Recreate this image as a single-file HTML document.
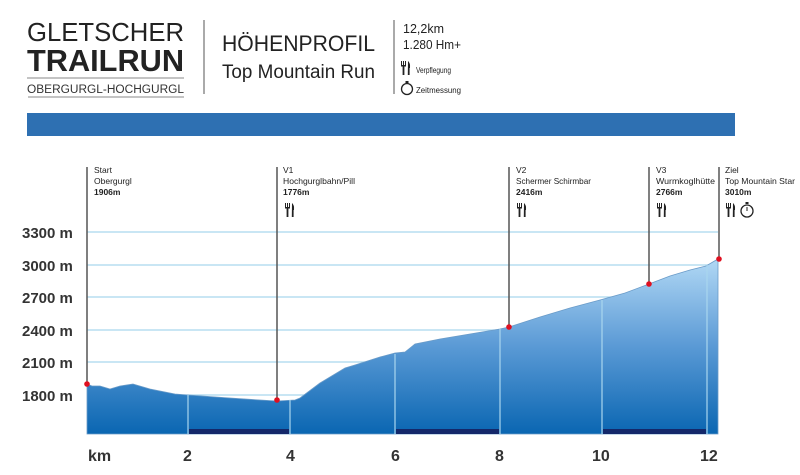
<!DOCTYPE html>
<html><head><meta charset="utf-8"><style>
body{margin:0;width:800px;height:470px;background:#fff;overflow:hidden;font-family:"Liberation Sans",sans-serif}
</style></head><body>
<svg width="800" height="470" xmlns="http://www.w3.org/2000/svg" font-family="Liberation Sans, sans-serif">
<defs>
<linearGradient id="g" gradientUnits="userSpaceOnUse" x1="0" y1="255" x2="0" y2="434">
<stop offset="0" stop-color="#b5dbf6"/><stop offset="0.5" stop-color="#5c9bd6"/><stop offset="1" stop-color="#0a66b2"/>
</linearGradient>
<g id="fk" fill="#222">
<rect x="0" y="0" width="1" height="5"/><rect x="2" y="0" width="1" height="5"/><rect x="4" y="0" width="1" height="5"/>
<rect x="0" y="4" width="5" height="1.5"/><rect x="1.6" y="5" width="1.8" height="9"/>
<path d="M7,0 Q9.5,2 9,7 L8.6,7 L8.6,14 L6.8,14 Z"/>
</g>
</defs>
<text x="27" y="41" font-size="26" fill="#222" textLength="157" lengthAdjust="spacingAndGlyphs">GLETSCHER</text>
<text x="27" y="71" font-size="31" font-weight="bold" fill="#222" textLength="157" lengthAdjust="spacingAndGlyphs">TRAILRUN</text>
<line x1="27" y1="78" x2="184" y2="78" stroke="#888" stroke-width="1"/>
<text x="27" y="93" font-size="11.5" fill="#333" textLength="157" lengthAdjust="spacingAndGlyphs">OBERGURGL-HOCHGURGL</text>
<line x1="28" y1="97" x2="184" y2="97" stroke="#888" stroke-width="1"/>
<line x1="204" y1="20" x2="204" y2="94" stroke="#555" stroke-width="1"/>
<text x="222" y="51" font-size="22" fill="#222" textLength="153" lengthAdjust="spacingAndGlyphs">HÖHENPROFIL</text>
<text x="222" y="78" font-size="19" fill="#222" textLength="153" lengthAdjust="spacingAndGlyphs">Top Mountain Run</text>
<line x1="394" y1="20" x2="394" y2="94" stroke="#555" stroke-width="1"/>
<text x="403" y="33" font-size="13" fill="#222" textLength="41" lengthAdjust="spacingAndGlyphs">12,2km</text>
<text x="403" y="49" font-size="13" fill="#222" textLength="58" lengthAdjust="spacingAndGlyphs">1.280 Hm+</text>
<use href="#fk" x="401" y="61"/>
<text x="416" y="73" font-size="8" fill="#222" textLength="35" lengthAdjust="spacingAndGlyphs">Verpflegung</text>
<circle cx="407" cy="89" r="5.5" fill="none" stroke="#222" stroke-width="1.3"/>
<rect x="405.5" y="81" width="3" height="2" fill="#222"/>
<text x="416" y="93" font-size="8" fill="#222" textLength="45" lengthAdjust="spacingAndGlyphs">Zeitmessung</text>
<rect x="27" y="113" width="708" height="23" fill="#2e70b2"/>
<g stroke="#a9d6ee" stroke-width="1.2">
<line x1="87" y1="232" x2="718" y2="232"/><line x1="87" y1="265" x2="718" y2="265"/>
<line x1="87" y1="297" x2="718" y2="297"/><line x1="87" y1="330" x2="718" y2="330"/>
<line x1="87" y1="362" x2="718" y2="362"/><line x1="87" y1="395" x2="718" y2="395"/>
</g>
<g font-size="15" font-weight="bold" fill="#333">
<text x="22" y="238">3300 m</text><text x="22" y="271">3000 m</text><text x="22" y="303">2700 m</text>
<text x="22" y="336">2400 m</text><text x="22" y="368">2100 m</text><text x="22" y="401">1800 m</text>
</g>
<path d="M87,384 L92,386 L100,386 L110,389 L120,386 L133,384 L150,389 L175,394 L188,395 L230,398 L260,400 L277,401 L295,400 L300,398 L320,383 L345,368 L355,365 L380,357 L395,353 L405,352 L410,348 L415,344 L440,339 L470,334 L500,329 L509,327 L540,317 L570,308 L600,300 L625,293 L649,284 L670,276 L690,270 L706,266 L718,259 L718,434 L87,434 Z" fill="url(#g)" stroke="#6a9bc8" stroke-width="0.8"/>
<g stroke="#a9d6ee" stroke-width="1.2">
<line x1="188" y1="395" x2="188" y2="434"/><line x1="290" y1="400" x2="290" y2="434"/>
<line x1="395" y1="354" x2="395" y2="434"/><line x1="500" y1="329" x2="500" y2="434"/>
<line x1="602" y1="300" x2="602" y2="434"/><line x1="707" y1="265" x2="707" y2="434"/>
</g>
<g fill="#14286a">
<rect x="189" y="429" width="100" height="5"/><rect x="396" y="429" width="103" height="5"/><rect x="603" y="429" width="103" height="5"/>
</g>
<g stroke="#555" stroke-width="1.5">
<line x1="87" y1="167" x2="87" y2="384"/><line x1="277" y1="167" x2="277" y2="400"/>
<line x1="509" y1="167" x2="509" y2="327"/><line x1="649" y1="167" x2="649" y2="284"/>
<line x1="719" y1="167" x2="719" y2="259"/>
</g>
<g fill="#e01020">
<circle cx="87" cy="384" r="2.8"/><circle cx="277" cy="400" r="2.8"/><circle cx="509" cy="327" r="2.8"/>
<circle cx="649" cy="284" r="2.8"/><circle cx="719" cy="259" r="2.8"/>
</g>
<g font-size="8.5" fill="#222">
<text x="94" y="173">Start</text><text x="94" y="184">Obergurgl</text><text x="94" y="195" font-weight="bold">1906m</text>
<text x="283" y="173">V1</text><text x="283" y="184" textLength="72" lengthAdjust="spacingAndGlyphs">Hochgurglbahn/Pill</text><text x="283" y="195" font-weight="bold">1776m</text>
<text x="516" y="173">V2</text><text x="516" y="184" textLength="75" lengthAdjust="spacingAndGlyphs">Schermer Schirmbar</text><text x="516" y="195" font-weight="bold">2416m</text>
<text x="656" y="173">V3</text><text x="656" y="184" textLength="59" lengthAdjust="spacingAndGlyphs">Wurmkoglhütte</text><text x="656" y="195" font-weight="bold">2766m</text>
<text x="725" y="173">Ziel</text><text x="725" y="184" textLength="70" lengthAdjust="spacingAndGlyphs">Top Mountain Star</text><text x="725" y="195" font-weight="bold">3010m</text>
</g>
<use href="#fk" x="285" y="203"/><use href="#fk" x="517" y="203"/><use href="#fk" x="657" y="203"/><use href="#fk" x="726" y="203"/>
<circle cx="747" cy="211" r="6" fill="none" stroke="#222" stroke-width="1.3"/>
<rect x="745.5" y="202" width="3" height="2" fill="#222"/>
<line x1="747" y1="211" x2="747" y2="207" stroke="#222"/>
<g font-size="16" font-weight="bold" fill="#333">
<text x="88" y="461">km</text><text x="183" y="461">2</text><text x="286" y="461">4</text><text x="391" y="461">6</text>
<text x="495" y="461">8</text><text x="592" y="461">10</text><text x="700" y="461">12</text>
</g>
</svg>
</body></html>
